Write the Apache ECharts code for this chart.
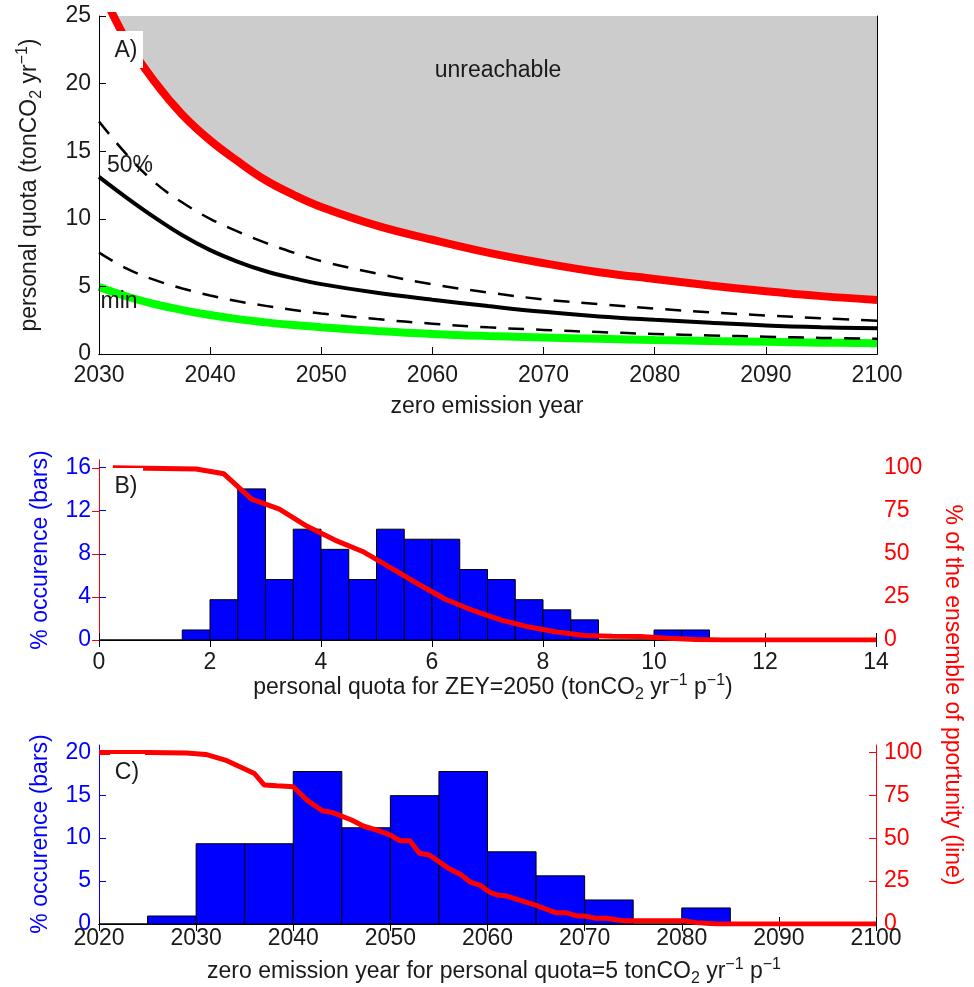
<!DOCTYPE html>
<html>
<head>
<meta charset="utf-8">
<script src="https://cdn.jsdelivr.net/npm/echarts@6/dist/echarts.min.js"></script>
<style>
html,body{margin:0;padding:0;background:#fff;}
#chart{width:974px;height:987px;}
</style>
</head>
<body>
<div id="chart"></div>
<script>
// ---------- Panel A data ----------
const yearsA  = [2030,2032.5,2035,2037.5,2040,2042.5,2045,2047.5,2050,2055,2060,2065,2070,2075,2080,2085,2090,2095,2100];
const redA    = [27.3,23.15,20.15,17.7,15.8,14.25,12.85,11.78,10.88,9.5,8.45,7.5,6.72,6.05,5.55,5.07,4.64,4.28,4.0];
const upperA  = [17.2,14.75,12.7,11.2,10.0,9.05,8.22,7.5,6.87,5.95,5.15,4.55,4.04,3.68,3.36,3.08,2.85,2.65,2.46];
const medianA = [13.1,11.55,10.1,8.78,7.68,6.82,6.12,5.6,5.17,4.53,4.02,3.55,3.12,2.78,2.53,2.31,2.11,1.98,1.9];
const lowerA  = [7.5,6.32,5.48,4.85,4.33,3.9,3.56,3.26,3.0,2.58,2.24,1.97,1.78,1.62,1.48,1.37,1.28,1.19,1.12];
const greenA  = [4.95,4.25,3.69,3.25,2.88,2.58,2.34,2.14,1.98,1.7,1.48,1.33,1.22,1.12,1.03,0.96,0.9,0.84,0.79];
const topA = 25;

// ---------- Panel B data ----------
const quotaBinEdges = [0,0.5,1,1.5,2,2.5,3,3.5,4,4.5,5,5.5,6,6.5,7,7.5,8,8.5,9,9.5,10,10.5,11];
const occB = [0,0,0,0.93,3.74,14.02,5.61,10.28,8.41,5.61,10.28,9.35,9.35,6.54,5.61,3.74,2.80,1.87,0,0,0.93,0.93];
const cdfBx = [0.25,1.75,2.25,2.75,3.25,3.75,4.25,4.75,5.25,5.75,6.25,6.75,7.25,7.75,8.25,8.75,9.25,9.75,10.25,10.75,11.25,14];
const cdfB  = [100,99.3,96.5,81.8,76,66,58,51.4,42,32.5,23.5,17,11.5,7.5,4.6,2.6,2.2,2.0,1.0,0.3,0,0];

// ---------- Panel C data ----------
const yearBinEdges = [2020,2025,2030,2035,2040,2045,2050,2055,2060,2065,2070,2075,2080,2085];
const occC = [0,0.93,9.35,9.35,17.76,11.21,14.95,17.76,8.41,5.61,2.80,0,1.87];
const cdfCx = [2020,2025,2029,2031,2033,2034.5,2036,2037,2038.3,2040,2041.4,2043,2044,2046,2047.2,2048.6,2050,2051,2052,2053,2054,2056,2057.2,2058.3,2059.2,2060.2,2061,2062,2064.7,2067,2068,2069.2,2070,2071.2,2072.2,2074,2080.2,2081.5,2083.6,2100];
const cdfC  = [100,100,99.6,98.8,95.5,91.6,87.7,81.0,80.5,80,72.2,66.0,65.0,60.6,57.1,54.7,51.8,48.5,48.5,41.2,40.2,32.4,29.0,24.2,22.7,18.6,16.9,16.3,11.5,6.6,6.6,4.7,4.7,3.3,3.3,1.9,1.9,0.8,0,0];

// ---------- tick values ----------
const yTicksA = [0,5,10,15,20,25];
const yTicksB = [0,4,8,12,16];
const yTicksC = [0,5,10,15,20];
const yTicksRight = [0,25,50,75,100];

const FONT = 'Liberation Sans, Arial, Helvetica, sans-serif';
const FS = 23;
const TXT = '#1a1a1a';
const BLUE = '#0000FF';
const RED = '#FF0000';
const plain = v => String(v);

const pairs = (xs, ys) => xs.map((x, i) => [x, ys[i]]);

function xAx(grid, min, max, interval, opts) {
  return Object.assign({
    type: 'value', gridIndex: grid, min, max, interval,
    axisLine: {show: true, lineStyle: {color: '#000', width: 1}},
    axisTick: {show: true, inside: true, length: 7, lineStyle: {color: '#000'}},
    axisLabel: {show: true, color: TXT, fontSize: FS, fontFamily: FONT, margin: 10, formatter: plain},
    splitLine: {show: false}
  }, opts || {});
}
function yAx(grid, min, max, ticks, color, pos, opts) {
  return Object.assign({
    type: 'value', gridIndex: grid, min, max, position: pos,
    axisLine: {show: true, lineStyle: {color: color, width: 1}},
    axisTick: {show: true, inside: true, length: 7, customValues: ticks, lineStyle: {color: color}},
    axisLabel: {show: true, color: color, fontSize: FS, fontFamily: FONT, margin: 8, customValues: ticks, formatter: plain},
    splitLine: {show: false}
  }, opts || {});
}

function histSeries(edges, vals, xi, yi) {
  const data = vals.map((v, i) => [edges[i], edges[i + 1], v]);
  return {
    type: 'custom', xAxisIndex: xi, yAxisIndex: yi, data,
    encode: {x: [0, 1], y: 2}, z: 2, silent: true,
    renderItem: (params, api) => {
      const a = api.coord([api.value(0), api.value(2)]);
      const b = api.coord([api.value(1), 0]);
      return {type: 'rect', shape: {x: a[0], y: a[1], width: b[0] - a[0], height: b[1] - a[1]},
        style: {fill: BLUE, stroke: '#000', lineWidth: 1}};
    }
  };
}

const SMOOTH = 0.4;
function lineA(ys, color, width, type) {
  return {type: 'line', xAxisIndex: 0, yAxisIndex: 0, data: pairs(yearsA, ys), symbol: 'none',
    smooth: SMOOTH, z: 3, silent: true,
    lineStyle: {color, width, type: type || 'solid', cap: 'butt'}};
}

function richStyle(color, size) {
  return {
    n: {fontSize: size, fontFamily: FONT, fill: color, color: color, lineHeight: 30},
    sub: {fontSize: 16, fontFamily: FONT, fill: color, color: color, lineHeight: 16, verticalAlign: 'bottom'},
    sup: {fontSize: 16, fontFamily: FONT, fill: color, color: color, lineHeight: 16, verticalAlign: 'top'}
  };
}
function gText(x, y, text, color, rotation, richTxt) {
  const st = {text, fill: color, align: 'center', verticalAlign: 'middle',
    font: FS + 'px ' + FONT, fontSize: FS, fontFamily: FONT};
  if (richTxt) st.rich = richStyle(color, FS);
  return {type: 'text', x, y, rotation: rotation || 0, z: 101, silent: true, style: st};
}
function box(x, y, w, h) {
  return {type: 'rect', z: 100, silent: true, shape: {x, y, width: w, height: h}, style: {fill: '#fff'}};
}

const option = {
  animation: false,
  backgroundColor: '#fff',
  grid: [
    {left: 99, top: 16, width: 778, height: 338, outerBoundsMode: 'none'},
    {left: 99, top: 460, width: 777, height: 180, outerBoundsMode: 'none'},
    {left: 99, top: 745, width: 777, height: 179, outerBoundsMode: 'none'}
  ],
  xAxis: [
    xAx(0, 2030, 2100, 10, {z: 5}),
    xAx(0, 2030, 2100, 10, {position: 'top', z: 5, axisTick: {show: false}, axisLabel: {show: false}}),
    xAx(1, 0, 14, 2, {axisLabel: {color: TXT, fontSize: FS, fontFamily: FONT, margin: 11, formatter: plain}}),
    xAx(1, 0, 14, 2, {position: 'top', axisLabel: {show: false}}),
    xAx(2, 2020, 2100, 10, {axisLabel: {color: TXT, fontSize: FS, fontFamily: FONT, margin: 3, formatter: plain}}),
    xAx(2, 2020, 2100, 10, {position: 'top', axisLabel: {show: false}})
  ],
  yAxis: [
    yAx(0, 0, 25, yTicksA, '#000', 'left', {z: 5, axisLabel: {color: TXT, fontSize: FS, fontFamily: FONT, margin: 8, customValues: yTicksA, formatter: plain}}),
    yAx(0, 0, 25, yTicksA, '#000', 'right', {z: 5, axisTick: {show: false}, axisLabel: {show: false}}),
    yAx(1, 0, 16.7, yTicksB, BLUE, 'left'),
    yAx(1, 0, 104.5, yTicksRight, RED, 'right'),
    yAx(2, 0, 20.85, yTicksC, BLUE, 'left'),
    yAx(2, 0, 104.3, yTicksRight, RED, 'right')
  ],
  series: [
    // grey "unreachable" region: fill up to the top of the axis, then white below the red curve
    {type: 'line', xAxisIndex: 0, yAxisIndex: 0, data: pairs(yearsA, yearsA.map(() => topA)),
      symbol: 'none', lineStyle: {width: 0, opacity: 0}, areaStyle: {color: '#CCCCCC', opacity: 1, origin: 'start'},
      z: 1, silent: true},
    {type: 'line', xAxisIndex: 0, yAxisIndex: 0, data: pairs(yearsA, redA),
      symbol: 'none', smooth: SMOOTH, lineStyle: {width: 0, opacity: 0}, areaStyle: {color: '#FFFFFF', opacity: 1, origin: 'start'},
      z: 1, silent: true},
    lineA(greenA, '#00FF00', 8),
    lineA(lowerA, '#000', 2.5, [16, 12]),
    lineA(medianA, '#000', 4),
    lineA(upperA, '#000', 2.5, [16, 12]),
    lineA(redA, RED, 8),
    histSeries(quotaBinEdges, occB, 2, 2),
    {type: 'line', xAxisIndex: 2, yAxisIndex: 3, data: pairs(cdfBx, cdfB), symbol: 'none', z: 3, silent: true,
      lineStyle: {color: RED, width: 5}},
    histSeries(yearBinEdges, occC, 4, 4),
    {type: 'line', xAxisIndex: 4, yAxisIndex: 5, data: pairs(cdfCx, cdfC), symbol: 'none', z: 3, silent: true,
      lineStyle: {color: RED, width: 5}}
  ],
  graphic: [
    box(110, 31, 33, 37), gText(126, 51, 'A)', TXT),
    box(110, 468, 33, 37), gText(126, 487, 'B)', TXT),
    box(110, 754, 35, 37), gText(127, 773, 'C)', TXT),
    gText(498, 71, 'unreachable', TXT),
    gText(130, 166, '50%', TXT),
    gText(119, 302, 'min', TXT),
    gText(30, 185, '{n|personal quota (tonCO}{sub|2}{n| yr}{sup|−1}{n|)}', TXT, Math.PI / 2, true),
    gText(487, 407, 'zero emission year', TXT),
    gText(41, 550, '% occurence (bars)', BLUE, Math.PI / 2),
    gText(493, 688, '{n|personal quota for ZEY=2050 (tonCO}{sub|2}{n| yr}{sup|−1}{n| p}{sup|−1}{n|)}', TXT, 0, true),
    gText(41, 834, '% occurence (bars)', BLUE, Math.PI / 2),
    gText(494, 972, '{n|zero emission year for personal quota=5 tonCO}{sub|2}{n| yr}{sup|−1}{n| p}{sup|−1}', TXT, 0, true),
    gText(952, 695, '% of the ensemble of pportunity (line)', RED, -Math.PI / 2)
  ]
};

const chart = echarts.init(document.getElementById('chart'), null, {renderer: 'canvas'});
chart.setOption(option);
</script>
</body>
</html>
